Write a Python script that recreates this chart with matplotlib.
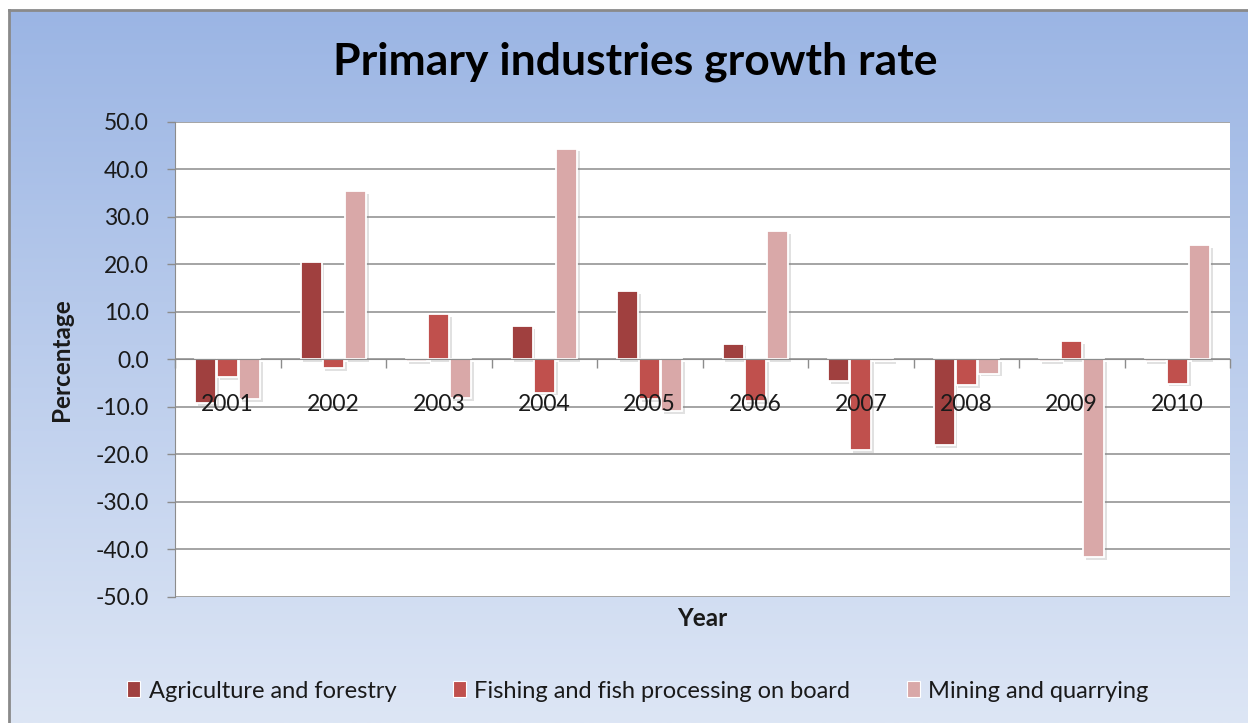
import numpy as np
import matplotlib.pyplot as plt
import matplotlib.patheffects as pe
from matplotlib.patches import Patch
from matplotlib.lines import Line2D

plt.rcParams['font.family'] = ['Lato', 'DejaVu Sans']
plt.rcParams['axes.unicode_minus'] = False

years = ['2001', '2002', '2003', '2004', '2005', '2006', '2007', '2008', '2009', '2010']
agri = [-9.3, 20.5, -0.3, 7.0, 14.3, 3.3, -4.6, -18.0, -0.3, -0.3]
fish = [-3.7, -1.8, 9.6, -7.0, -8.4, -8.8, -19.2, -5.5, 3.9, -5.1]
mining = [-8.3, 35.4, -8.1, 44.4, -10.9, 27.0, -0.3, -3.0, -41.6, 24.0]

series = [('Agriculture and forestry', agri, '#A0403F'),
          ('Fishing and fish processing on board', fish, '#C0504D'),
          ('Mining and quarrying', mining, '#D9A8A8')]

W, H = 1248, 723
fig = plt.figure(figsize=(W / 100, H / 100), dpi=100)
fig.patch.set_facecolor('white')

# gradient background of the chart area
bg = fig.add_axes([9 / W, 0, 1 - 9 / W, (H - 10) / H])
top = np.array([155, 181, 228]) / 255
bot = np.array([221, 230, 245]) / 255
t = np.linspace(0, 1, 256)[:, None]
grad = (top[None, :] * (1 - t) + bot[None, :] * t)[:, None, :]
bg.imshow(grad, aspect='auto', extent=[0, 1, 0, 1])
bg.axis('off')
fig.add_artist(Line2D([9 / W, 9 / W], [0, (H - 10) / H], color='#8a8a8a', lw=2))
fig.add_artist(Line2D([9 / W, 1], [(H - 10) / H, (H - 10) / H], color='#8a8a8a', lw=2))

ax = fig.add_axes([175 / W, (H - 596.7) / H, (1230 - 175) / W, (596.7 - 122) / H])
ax.set_facecolor('white')

x = np.arange(len(years))
w = 0.2
offsets = [-0.21, 0.0, 0.21]
shadow = [pe.SimplePatchShadow(offset=(2, -2), shadow_rgbFace='#8a8a8a', alpha=0.25), pe.Normal()]
for (name, vals, col), off in zip(series, offsets):
    ax.bar(x + off, vals, w, color=col, edgecolor='white', linewidth=1.3,
           label=name, zorder=1, path_effects=shadow)

ax.set_xlim(-0.5, 9.5)
ax.set_ylim(-50, 50)
yt = np.arange(-50, 51, 10)
ax.set_yticks(yt)
ax.set_yticklabels(['%.1f' % v for v in yt])
for v in yt:
    ax.axhline(v, color='#8c8c8c', lw=1.1, zorder=0.5)

ax.set_axisbelow('line')
ax.spines['top'].set_visible(False)
ax.spines['right'].set_visible(False)
ax.spines['left'].set_color('#8c8c8c')
ax.spines['bottom'].set_color('#8c8c8c')
ax.spines['bottom'].set_position(('data', 0))

ax.set_xticks(x)
ax.set_xticklabels(years)
ax.set_xticks(np.arange(-0.5, 10, 1), minor=True)
ax.tick_params(axis='x', which='major', length=0, pad=25, labelsize=16.5, labelcolor='#1a1a1a')
ax.tick_params(axis='x', which='minor', length=6.5, width=1, color='#8c8c8c', direction='out')
ax.tick_params(axis='y', length=6, width=1, color='#8c8c8c', pad=13, labelsize=16.5, labelcolor='#1a1a1a')

fig.text(62 / W, 1 - 360 / H, 'Percentage', rotation=90, ha='center', va='center',
         fontsize=17.5, fontweight='bold', color='#1a1a1a')
fig.text(702 / W, 1 - 619 / H, 'Year', ha='center', va='center',
         fontsize=17.5, fontweight='bold', color='#1a1a1a')
fig.text(635 / W, 1 - 62 / H, 'Primary industries growth rate', ha='center', va='center',
         fontsize=32, fontweight='bold', color='black')

handles = [Patch(facecolor=c, edgecolor='white', linewidth=0.8) for _, _, c in series]
fig.legend(handles, [s[0] for s in series], loc='center', bbox_to_anchor=(638 / W, 1 - 691 / H),
           ncol=3, frameon=False, fontsize=17, handlelength=0.55, handleheight=0.65,
           handletextpad=0.35, columnspacing=2.4, labelcolor='#1a1a1a')

fig.savefig('out.png', dpi=100)
